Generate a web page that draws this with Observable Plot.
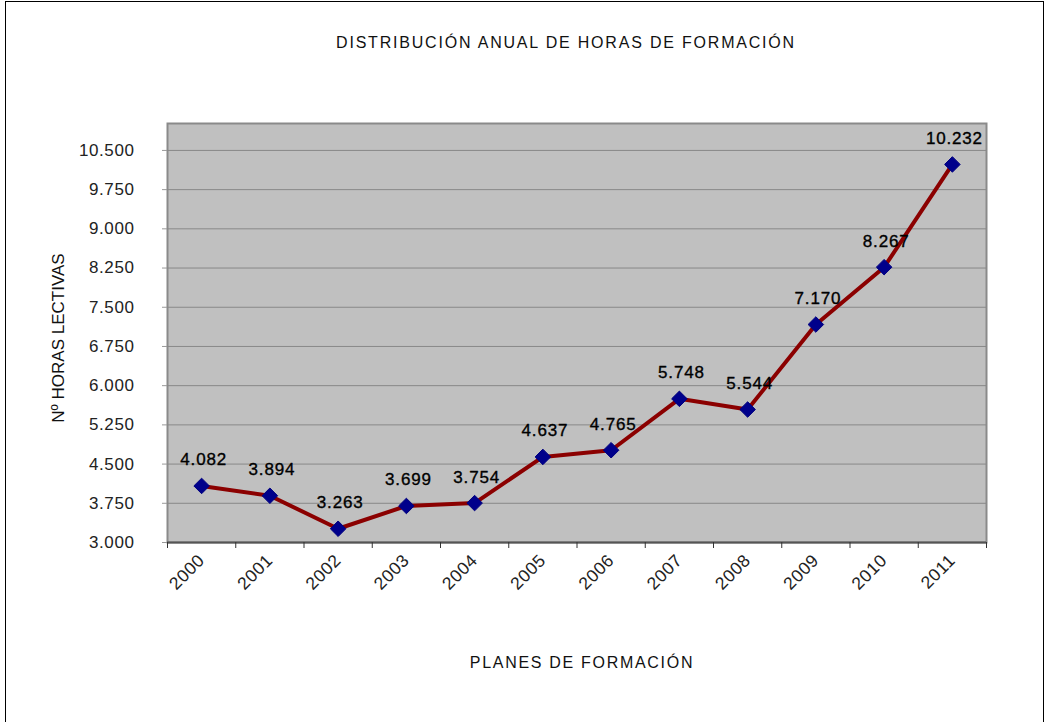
<!DOCTYPE html>
<html><head><meta charset="utf-8">
<script src="https://cdn.jsdelivr.net/npm/d3@7"></script>
<script src="https://cdn.jsdelivr.net/npm/@observablehq/plot@0.6"></script>
<style>
body{margin:0;background:#fff;}
#wrap{position:relative;width:1048px;height:722px;overflow:hidden;background:#fff;}
#border{position:absolute;left:5px;top:1px;width:1039px;height:740px;border:1px solid #000;box-sizing:border-box;pointer-events:none;}
#chart{position:absolute;left:0;top:0;}
</style></head><body>
<div id="wrap"><div id="chart"></div><div id="border"></div></div>
<script>
const years = ["2000","2001","2002","2003","2004","2005","2006","2007","2008","2009","2010","2011"];
const hours = [4082, 3894, 3263, 3699, 3754, 4637, 4765, 5748, 5544, 7170, 8267, 10232];
const yTicks = [3000, 3750, 4500, 5250, 6000, 6750, 7500, 8250, 9000, 9750, 10500];
const title = "DISTRIBUCIÓN ANUAL DE HORAS DE FORMACIÓN";
const xTitle = "PLANES DE FORMACIÓN";
const yTitle = "Nº HORAS LECTIVAS";

const es = d3.formatLocale({decimal: ",", thousands: ".", grouping: [3], currency: ["", " €"]});
const fmt = es.format(",d");
const data = years.map((year, i) => ({year, pos: i + 0.5, hours: hours[i]}));
const bounds = d3.range(years.length + 1);
const font = "'Liberation Sans', Arial, sans-serif";

const chart = Plot.plot({
  width: 1048, height: 722,
  marginLeft: 167, marginRight: 62, marginTop: 123, marginBottom: 180,
  x: {type: "linear", domain: [0, years.length]},
  y: {domain: [3000, 11015]},
  style: {fontFamily: font, background: "transparent", overflow: "visible", color: "#000"},
  marks: [
    Plot.frame({fill: "#c0c0c0", stroke: "#8a8a8a", strokeWidth: 2}),
    Plot.ruleY(yTicks.slice(1), {stroke: "#888", strokeWidth: 1}),
    Plot.ruleY([3000], {stroke: "#555", strokeWidth: 2}),
    Plot.axisY({ticks: yTicks, tickFormat: fmt, tickSize: 5, tickPadding: 28, fontSize: 17, label: null, stroke: "#999", fill: "#222"}),
    Plot.axisX({ticks: bounds, tickFormat: () => "", tickSize: 6, label: null, stroke: "#333"}),
    Plot.axisX(data.map(d => d.pos), {tickFormat: v => years[Math.floor(v)], tickSize: 0, tickPadding: 15, tickRotate: -45, fontSize: 17.5, label: null, fill: "#222"}),
    Plot.line(data, {x: "pos", y: "hours", stroke: "#8b0000", strokeWidth: 4}),
    Plot.dot(data, {x: "pos", y: "hours", symbol: "diamond2", r: 7, fill: "#00008b", stroke: "#000080", strokeWidth: 1}),
    Plot.text(data, {x: "pos", y: "hours", text: d => fmt(d.hours), dy: -26, dx: 2, fontSize: 17, fill: "#000", stroke: "#000", strokeWidth: 0.35}),
    Plot.text([title], {frameAnchor: "top", textAnchor: "middle", lineAnchor: "middle", dx: -11, dy: -81, fontSize: 16, fill: "#111"}),
    Plot.text([xTitle], {frameAnchor: "bottom", textAnchor: "middle", lineAnchor: "middle", dx: 5, dy: 120, fontSize: 16, fill: "#111"}),
    Plot.text([yTitle], {frameAnchor: "left", textAnchor: "middle", lineAnchor: "middle", rotate: -90, dx: -109, dy: 5, fontSize: 17, fill: "#111"})
  ]
});
document.getElementById("chart").appendChild(chart);
// widen letter spacing to mimic the horizontally stretched original rendering
const svg = d3.select(chart);
svg.selectAll("g[aria-label='y-axis tick label'] text, g[aria-label='x-axis tick label'] text").style("letter-spacing", "0.6px");
svg.selectAll("g[aria-label='text'] text").each(function() {
  const t = this.textContent;
  if (t === title) d3.select(this).style("letter-spacing", "1.8px");
  else if (t === xTitle) d3.select(this).style("letter-spacing", "1.7px");
  else if (t === yTitle) d3.select(this).style("letter-spacing", "0px");
  else d3.select(this).style("letter-spacing", "0.8px");
});
</script>
</body></html>
